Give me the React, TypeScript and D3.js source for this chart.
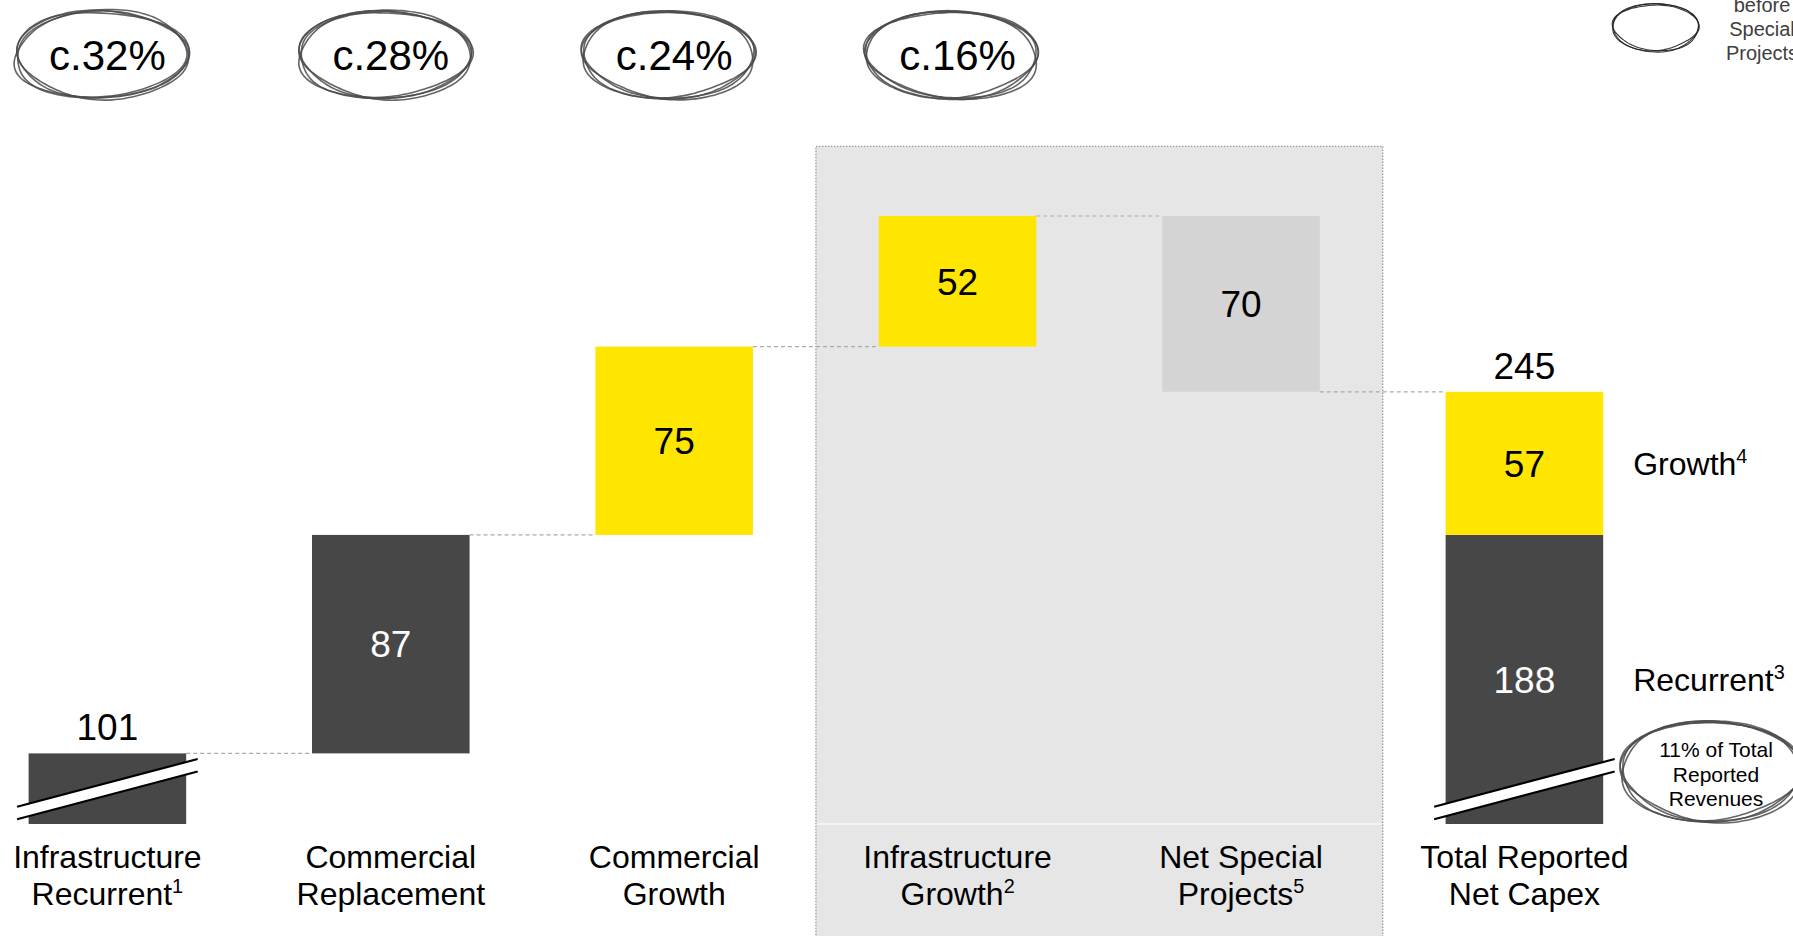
import React from "react";
import * as d3 from "d3";

// ---------- data ----------
const categories = [
  "Infrastructure Recurrent",
  "Commercial Replacement",
  "Commercial Growth",
  "Infrastructure Growth",
  "Net Special Projects",
  "Total Reported Net Capex",
];
const labelLine1 = ["Infrastructure", "Commercial", "Commercial", "Infrastructure", "Net Special", "Total Reported"];
const labelLine2 = ["Recurrent", "Replacement", "Growth", "Growth", "Projects", "Net Capex"];
const labelFootnotes = ["1", "", "", "2", "5", ""];
const stepValues = [101, 87, 75, 52, -70];
const stepKinds = ["recurrent", "recurrent", "growth", "growth", "special"];
const totalValue = 245;
const totalParts = [188, 57];
const totalPartKinds = ["recurrent", "growth"];
const totalPartNames = ["Recurrent", "Growth"];
const totalPartFootnotes = ["3", "4"];
const shareLabels = ["c.32%", "c.28%", "c.24%", "c.16%"];
const revenueNote = ["11% of Total", "Reported", "Revenues"];
const legendNote = ["before", "Special", "Projects"];

// ---------- layout / style ----------
const W = 1793;
const H = 936;
const FONT = "'Liberation Sans', Arial, Helvetica, sans-serif";
const COLORS: Record<string, string> = {
  recurrent: "#474747",
  growth: "#FFE600",
  special: "#D4D4D4",
};
const TEXT_ON: Record<string, string> = {
  recurrent: "#ffffff",
  growth: "#000000",
  special: "#000000",
};
const BASE_Y = 824;

function sketchEllipse(cx: number, cy: number, rx: number, ry: number, seed: number, passes = 4) {
  const paths: string[] = [];
  const line = d3.line<[number, number]>().curve(d3.curveBasis);
  for (let k = 0; k < passes; k++) {
    const rot = ((-4 + k * 2.2 + seed) * Math.PI) / 180;
    const start = 2.3 + k * 0.5 + seed * 0.3;
    const pts: [number, number][] = [];
    const N = 90;
    for (let t = 0; t <= N; t++) {
      const a = start + (t / N) * Math.PI * 2 * 1.06;
      const f = 1 + 0.025 * Math.sin(3 * a + k + seed) + 0.012 * Math.sin(5 * a + 2 * k);
      const px = rx * f * Math.cos(a);
      const py = ry * f * Math.sin(a);
      pts.push([
        cx + px * Math.cos(rot) - py * Math.sin(rot) + (k - 1.5) * 0.8,
        cy + px * Math.sin(rot) + py * Math.cos(rot) + (k % 2 ? 0.6 : -0.6),
      ]);
    }
    paths.push(line(pts) as string);
  }
  return paths;
}

export default function App() {
  const x = d3
    .scaleBand<string>()
    .domain(categories)
    .range([28.6, 1603.2])
    .paddingInner(0.444)
    .paddingOuter(0);
  const y = d3.scaleLinear().domain([0, 315]).range([1007, 216]);
  const bw = x.bandwidth();
  const gap = x.step() - bw;
  const yb = (v: number) => Math.min(y(v), BASE_Y);

  // waterfall steps
  let cum = 0;
  const steps = stepValues.map((v, i) => {
    const start = cum;
    const end = cum + v;
    cum = end;
    return {
      cat: categories[i],
      lo: Math.min(start, end),
      hi: Math.max(start, end),
      end,
      v,
      kind: stepKinds[i],
    };
  });
  const totalCat = categories[categories.length - 1];
  let tcum = 0;
  const totalSegs = totalParts.map((v, i) => {
    const lo = tcum;
    tcum += v;
    return { lo, hi: tcum, v, kind: totalPartKinds[i], name: totalPartNames[i], fn: totalPartFootnotes[i] };
  });

  const shadeX0 = (x(categories[3]) as number) - gap / 2;
  const shadeX1 = (x(categories[4]) as number) + bw + gap / 2;

  const breakMark = (bx: number, key: string) => {
    const x0 = bx - 11.5;
    const x1 = bx + bw + 11.5;
    const u0 = BASE_Y - 17.3;
    const u1 = BASE_Y - 65;
    const g = 12.5;
    return (
      <g key={key}>
        <polygon points={`${x0},${u0} ${x1},${u1} ${x1},${u1 + g} ${x0},${u0 + g}`} fill="#ffffff" />
        <line x1={x0} y1={u0} x2={x1} y2={u1} stroke="#000" strokeWidth={2.2} />
        <line x1={x0} y1={u0 + g} x2={x1} y2={u1 + g} stroke="#000" strokeWidth={2.2} />
      </g>
    );
  };

  const valFs = 37;
  const catFs = 32;
  const pctFs = 42;

  return (
    <svg
      width={W}
      height={H}
      viewBox={`0 0 ${W} ${H}`}
      style={{ position: "absolute", left: 0, top: 0, background: "#fff" }}
      fontFamily={FONT}
    >
      <rect x={0} y={0} width={W} height={H} fill="#ffffff" />
      {/* shaded region */}
      <rect
        x={shadeX0}
        y={146.4}
        width={shadeX1 - shadeX0}
        height={H - 146.4 + 4}
        fill="#E6E6E6"
        stroke="#9a9a9a"
        strokeWidth={1.3}
        strokeDasharray="1.5 1.5"
      />
      <line x1={shadeX0 + 1} x2={shadeX1 - 1} y1={BASE_Y} y2={BASE_Y} stroke="#f4f4f4" strokeWidth={2} />

      {/* connectors */}
      {steps.map((s, i) => {
        const nextCat = categories[i + 1];
        return (
          <line
            key={"c" + i}
            x1={(x(s.cat) as number) + bw}
            x2={x(nextCat) as number}
            y1={y(s.end)}
            y2={y(s.end)}
            stroke="#ababab"
            strokeWidth={1.2}
            strokeDasharray="4 3"
          />
        );
      })}

      {/* step bars */}
      {steps.map((s, i) => {
        const bx = x(s.cat) as number;
        const top = y(s.hi);
        const bot = yb(s.lo);
        const cx = bx + bw / 2;
        const above = s.lo === 0;
        return (
          <g key={"b" + i}>
            <rect x={bx} y={top} width={bw} height={bot - top} fill={COLORS[s.kind]} />
            {above ? (
              <text x={cx} y={top - 13.5} textAnchor="middle" fontSize={valFs} fill="#000">
                {s.hi}
              </text>
            ) : (
              <text
                x={cx}
                y={(top + bot) / 2 + valFs * 0.358}
                textAnchor="middle"
                fontSize={valFs}
                fill={TEXT_ON[s.kind]}
              >
                {Math.abs(s.v)}
              </text>
            )}
          </g>
        );
      })}

      {/* total stacked bar */}
      {totalSegs.map((s, i) => {
        const bx = x(totalCat) as number;
        const top = y(s.hi);
        const bot = yb(s.lo);
        const mid = (top + bot) / 2;
        return (
          <g key={"t" + i}>
            <rect x={bx} y={top} width={bw} height={bot - top} fill={COLORS[s.kind]} />
            <text x={bx + bw / 2} y={mid + valFs * 0.358} textAnchor="middle" fontSize={valFs} fill={TEXT_ON[s.kind]}>
              {s.v}
            </text>
            <text x={bx + bw + 30} y={mid + catFs * 0.358} fontSize={catFs} fill="#000">
              {s.name}
              <tspan fontSize={catFs * 0.62} dy={-catFs * 0.36}>
                {s.fn}
              </tspan>
            </text>
          </g>
        );
      })}
      <text
        x={(x(totalCat) as number) + bw / 2}
        y={y(totalValue) - 13}
        textAnchor="middle"
        fontSize={valFs}
        fill="#000"
      >
        {totalValue}
      </text>

      {/* axis breaks */}
      {breakMark(x(categories[0]) as number, "br0")}
      {breakMark(x(totalCat) as number, "br1")}

      {/* category labels */}
      {categories.map((c, i) => {
        const cx = (x(c) as number) + bw / 2;
        return (
          <g key={"l" + i}>
            <text x={cx} y={867.5} textAnchor="middle" fontSize={catFs} fill="#000">
              {labelLine1[i]}
            </text>
            <text x={cx} y={904.5} textAnchor="middle" fontSize={catFs} fill="#000">
              {labelLine2[i]}
              {labelFootnotes[i] ? (
                <tspan fontSize={catFs * 0.62} dy={-catFs * 0.36}>
                  {labelFootnotes[i]}
                </tspan>
              ) : null}
            </text>
          </g>
        );
      })}

      {/* share annotations */}
      {shareLabels.map((s, i) => {
        const cx = (x(categories[i]) as number) + bw / 2;
        const cy = 54.5;
        return (
          <g key={"p" + i}>
            {sketchEllipse(cx - 6, cy, 86, 43.5, i * 0.7).map((d, k) => (
              <path key={k} d={d} fill="none" stroke="#4a4a4a" strokeWidth={1.6} strokeOpacity={0.85} />
            ))}
            <text x={cx} y={cy + pctFs * 0.358} textAnchor="middle" fontSize={pctFs} fill="#000">
              {s}
            </text>
          </g>
        );
      })}

      {/* revenue note */}
      {sketchEllipse(1711, 771, 90, 50, 1.3).map((d, k) => (
        <path key={"rv" + k} d={d} fill="none" stroke="#4a4a4a" strokeWidth={1.6} strokeOpacity={0.85} />
      ))}
      {revenueNote.map((t, i) => (
        <text key={"rn" + i} x={1716} y={757 + i * 24.5} textAnchor="middle" fontSize={21} fill="#000">
          {t}
        </text>
      ))}

      {/* legend */}
      {sketchEllipse(1656, 27.5, 43, 23.5, 2.1, 3).map((d, k) => (
        <path key={"lg" + k} d={d} fill="none" stroke="#222" strokeWidth={1.1} strokeOpacity={0.9} />
      ))}
      {legendNote.map((t, i) => (
        <text key={"ln" + i} x={1762} y={12 + i * 24} textAnchor="middle" fontSize={20} fill="#404040">
          {t}
        </text>
      ))}
    </svg>
  );
}
